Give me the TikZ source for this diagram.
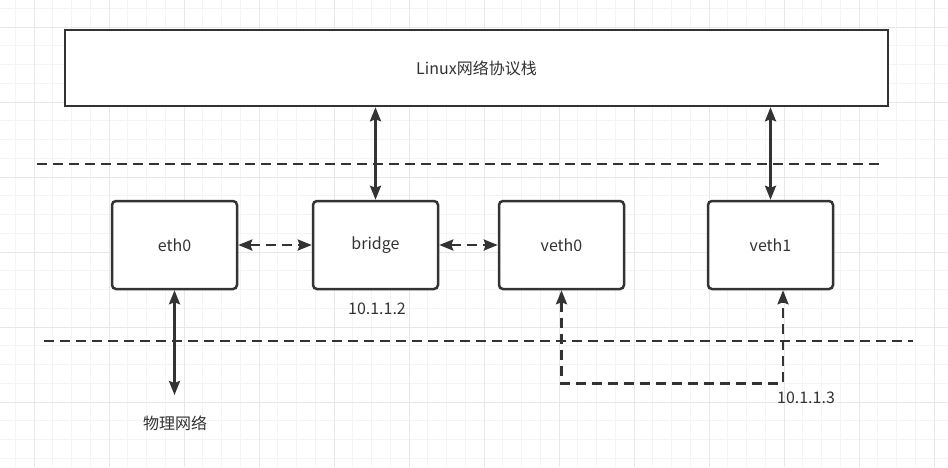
\documentclass[tikz,border=0pt]{standalone}
\usepackage{fontspec}
\setmainfont{Noto Sans CJK SC}
\usetikzlibrary{arrows.meta,calc}
\definecolor{ink}{HTML}{333333}
\definecolor{minorgrid}{HTML}{F4F4F4}
\definecolor{majorgrid}{HTML}{E8E8E8}
\tikzset{
  box/.style={draw=ink, line width=2.5pt, fill=white, rounded corners=4pt, minimum width=125pt, minimum height=88pt, inner sep=0pt, text=ink, font=\fontsize{16}{19}\selectfont},
  stackbox/.style={draw=ink, line width=2.5pt, fill=white, minimum width=823pt, minimum height=76pt, inner sep=0pt, text=ink, font=\fontsize{16}{19}\selectfont},
  lbl/.style={text=ink, inner sep=0pt, font=\fontsize{16}{19}\selectfont},
  conn/.style={draw=ink, line width=2.5pt, {Stealth[length=14pt,width=11pt,inset=2pt]}-{Stealth[length=14pt,width=11pt,inset=2pt]}},
  dconn/.style={conn, dash pattern=on 10pt off 6pt},
  sep/.style={draw=ink, line width=2.5pt, dash pattern=on 10pt off 6pt}
}
\begin{document}
\begin{tikzpicture}[x=1pt,y=-1pt]
\useasboundingbox (0,0) rectangle (948,467);
\fill[white] (0,0) rectangle (948,467);
% grid
\foreach \i in {0,...,50} {
  \draw[minorgrid, line width=1pt] ({15.25+18.75*\i},0) -- ({15.25+18.75*\i},467);
}
\foreach \i in {0,...,25} {
  \draw[minorgrid, line width=1pt] (0,{8.25+18.75*\i}) -- (948,{8.25+18.75*\i});
}
\foreach \i in {0,...,12} {
  \draw[majorgrid, line width=1pt] ({34+75*\i},0) -- ({34+75*\i},467);
}
\foreach \i in {0,...,6} {
  \draw[majorgrid, line width=1pt] (0,{27+75*\i}) -- (948,{27+75*\i});
}
% separators
\coordinate (s1a) at (37,164);
\coordinate (s1b) at (882,164);
\coordinate (s2a) at (44,341);
\coordinate (s2b) at (913,341);
\draw[sep] (s1a) -- (s1b);
\draw[sep] (s2a) -- (s2b);
% nodes
\node[stackbox] (stack) at (476.5,68) {Linux网络协议栈};
\node[box] (eth0) at (174.5,245) {eth0};
\node[box] (bridge) at (375.5,245) {bridge};
\node[box] (veth0) at (561.5,245) {veth0};
\node[box] (veth1) at (770.5,245) {veth1};
\node[lbl] (ip2) at (377,309) {10.1.1.2};
\node[lbl] (ip3) at (806,398) {10.1.1.3};
\node[lbl] (phy) at (175,423) {物理网络};
\coordinate (physend) at (174.5,395);
% connectors
\draw[conn] (bridge.north) -- (stack.south -| bridge.north);
\draw[conn] (veth1.north) -- (stack.south -| veth1.north);
\draw[conn] (eth0.south) -- (physend);
\draw[dconn] (eth0.east) -- (bridge.west);
\draw[dconn] (bridge.east) -- (veth0.west);
\draw[dconn] (veth0.south) -- ++(0,93) -| ($(veth1.south)+(12.5,0)$);
\end{tikzpicture}
\end{document}
